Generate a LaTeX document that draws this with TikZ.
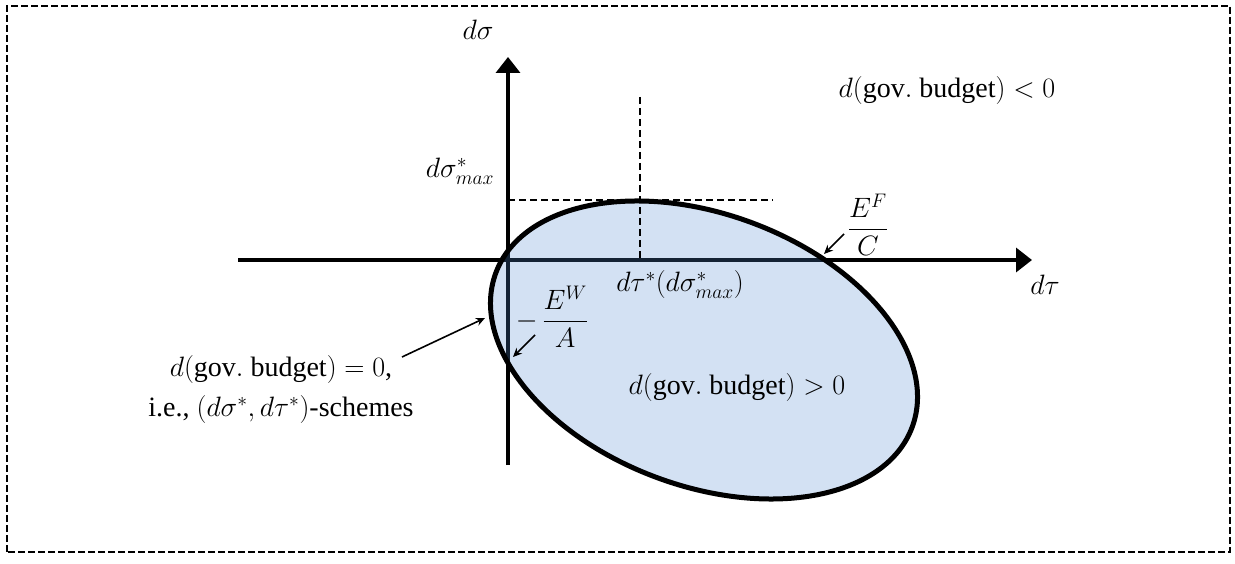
\RequirePackage{fix-cm}
\documentclass[tikz,border=0pt]{standalone}
\usepackage{amsmath}
\usepackage{fontspec}
\setmainfont{Liberation Serif}
\usepackage{tikz}
\usetikzlibrary{arrows.meta,positioning}
\definecolor{cZone}{HTML}{5088D0}
\definecolor{cInk} {HTML}{000000}
\tikzset{
  axis/.style  ={draw=cInk,line width=3.5pt,-{Triangle[length=16pt,width=24pt]}},
  guide/.style ={draw=cInk,line width=2pt,dash pattern=on 7pt off 4pt},
  frame/.style ={draw=cInk,line width=1.8pt,dash pattern=on 7pt off 3pt},
  zone/.style  ={fill=cZone,fill opacity=0.25,draw=cInk,line width=5pt},
  lbl/.style   ={inner sep=1pt,text=cInk},
  ptr/.style   ={-{Stealth[length=9pt,width=8pt]},draw=cInk,line width=1.6pt},
}

\begin{document}
\begin{tikzpicture}[x=1pt,y=1pt,font=\fontsize{28}{40}\selectfont]
\useasboundingbox (0,0) rectangle (1235,563);
\draw[frame] (7,11) rectangle (1230,557);

% axes
\coordinate (O)  at (508,303);
\coordinate (xL) at (238,303);
\coordinate (xR) at (1032,303);
\coordinate (yB) at (508,98);
\coordinate (yT) at (508,506);
\draw[axis] (xL) -- (xR);
\draw[axis] (yB) -- (yT);

% budget-neutral schemes
\draw[zone,rotate around={-20.3:(704,213)}] (704,213) ellipse [x radius=222,y radius=136];

% maximum of d sigma
\coordinate (hL) at (508,363);
\coordinate (hR) at (773,363);
\coordinate (vT) at (640,466);
\coordinate (vB) at (640,303);
\draw[guide] (hL) -- (hR);
\draw[guide] (vT) -- (vB);

\node[lbl] (dsig)  at (478,533) {$d\sigma$};
\node[lbl] (dtau)  at (1045,278) {$d\tau$};
\node[lbl] (dsmax) at (460,392) {$d\sigma^*_{max}$};
\node[lbl] (tstar) at (680,278) {$d\tau^*(d\sigma^*_{max})$};
\node[lbl] (neg)   at (947,472) {$d(\mathrm{gov.\ budget})<0$};
\node[lbl] (pos)   at (737,175) {$d(\mathrm{gov.\ budget})>0$};
\node[lbl,align=center] (zero) at (281,173)
  {$d(\mathrm{gov.\ budget})=0$,\\i.e., $(d\sigma^*,d\tau^*)$-schemes};
\node[lbl] (ew) at (552,246) {$-\,\dfrac{E^W}{A}$};
\node[lbl] (ef) at (868,338) {$\dfrac{E^F}{C}$};

% pointers
\coordinate (zeroTail) at (402,206);
\coordinate (zeroTip)  at (485,245);
\coordinate (ewTail)   at (535,228);
\coordinate (ewTip)    at (513,206);
\coordinate (efTail)   at (844,329);
\coordinate (efTip)    at (824,309);
\draw[ptr] (zeroTail) -- (zeroTip);
\draw[ptr] (ewTail) -- (ewTip);
\draw[ptr] (efTail) -- (efTip);
\end{tikzpicture}
\end{document}
